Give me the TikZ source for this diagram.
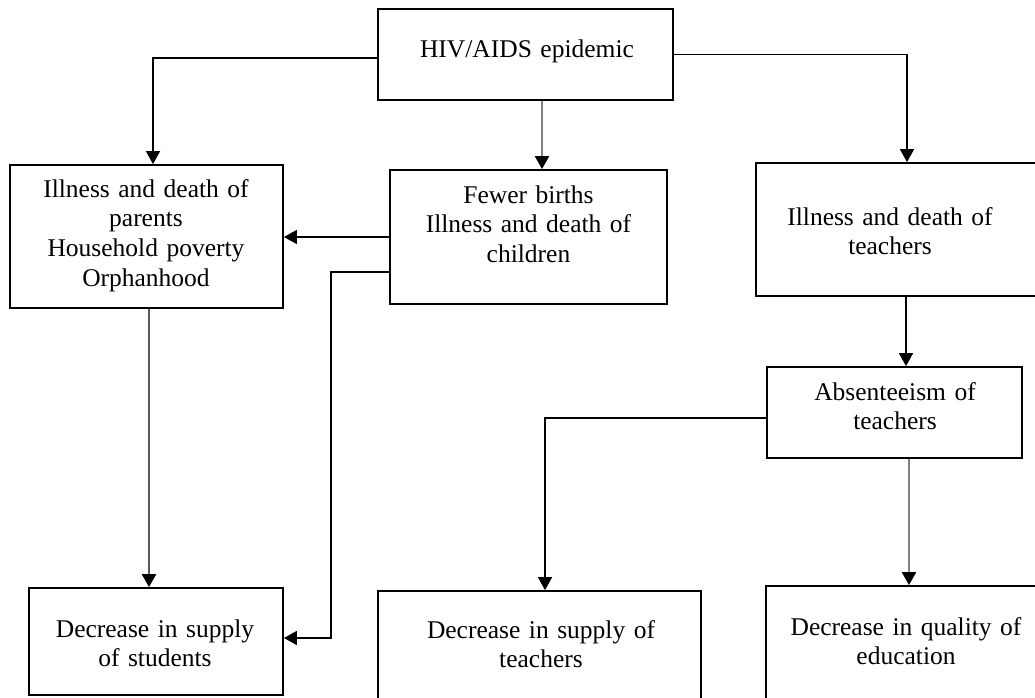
\documentclass[tikz,border=0pt]{standalone}
\usepackage{fontspec}
\setmainfont{Liberation Serif}
\usetikzlibrary{arrows.meta}
\begin{document}
\begin{tikzpicture}[x=1pt,y=-1pt,
  box/.style={draw=black,line width=1.8pt,inner sep=0pt},
  lbl/.style={anchor=base,align=center,inner sep=0pt,text width=340pt,
    font=\fontsize{25.5}{29.7}\selectfont},
  tip/.style={-{Triangle[width=14pt,length=13pt,color=black]}},
  arr/.style={tip,draw=black,line width=1.7pt},
  arrg/.style={tip,draw=black!50,line width=2.2pt},
  arrd/.style={tip,draw=black!65,line width=2.2pt}]
\useasboundingbox (0,0) rectangle (1035,698);
\fill[white] (0,0) rectangle (1035,698);
% boxes
\node[box,minimum width=295pt,minimum height=91pt] (hiv) at (525.5,54.5) {};
\node[box,minimum width=273pt,minimum height=143pt] (A) at (146.5,236.5) {};
\node[box,minimum width=277pt,minimum height=134pt] (B) at (528.5,237) {};
\node[box,minimum width=289pt,minimum height=133pt] (C) at (900.5,229.5) {};
\node[box,minimum width=255pt,minimum height=91pt] (E) at (894.5,412.5) {};
\node[box,minimum width=254pt,minimum height=107pt] (D) at (156,641.5) {};
\node[box,minimum width=323pt,minimum height=119pt] (F) at (539.5,650.5) {};
\node[box,minimum width=284pt,minimum height=124pt] (G) at (908,648) {};
% labels
\node[lbl] (hivT) at (527,58) {HIV/AIDS epidemic};
\node[lbl] (AT) at (146,197) {Illness and death of\\parents\\Household poverty\\Orphanhood};
\node[lbl] (BT) at (528.5,203) {Fewer births\\Illness and death of\\children};
\node[lbl] (CT) at (890,225) {Illness and death of\\teachers};
\node[lbl] (ET) at (895,400) {Absenteeism of\\teachers};
\node[lbl] (DT) at (155,637) {Decrease in supply\\of students};
\node[lbl] (FT) at (541,638) {Decrease in supply of\\teachers};
\node[lbl] (GT) at (906,635) {Decrease in quality of\\education};
% connectors
\draw[arr] ([yshift=-3.5pt]hiv.west) -| ([xshift=6.5pt]A.north);
\draw[arr] (hiv.east) -| ([xshift=6.5pt]C.north);
\draw[arrg] ([xshift=16.5pt]hiv.south) -- ([xshift=16.5pt]hiv.south |- B.north);
\draw[arr] (B.west) -- (B.west -| A.east);
\draw[arr] ([yshift=-35pt]B.west) -| ([xshift=47pt,yshift=3.5pt]D.east) -- ([yshift=3.5pt]D.east);
\draw[arrd] ([xshift=2.5pt]A.south) -- ([xshift=2.5pt]A.south |- D.north);
\draw[arr] ([xshift=5.5pt]C.south) -- ([xshift=5.5pt]C.south |- E.north);
\draw[arr] ([yshift=-5.5pt]E.west) -| ([xshift=5.5pt]F.north);
\draw[arrg] ([xshift=14.5pt]E.south) -- ([xshift=14.5pt]E.south |- G.north);
\end{tikzpicture}
\end{document}
